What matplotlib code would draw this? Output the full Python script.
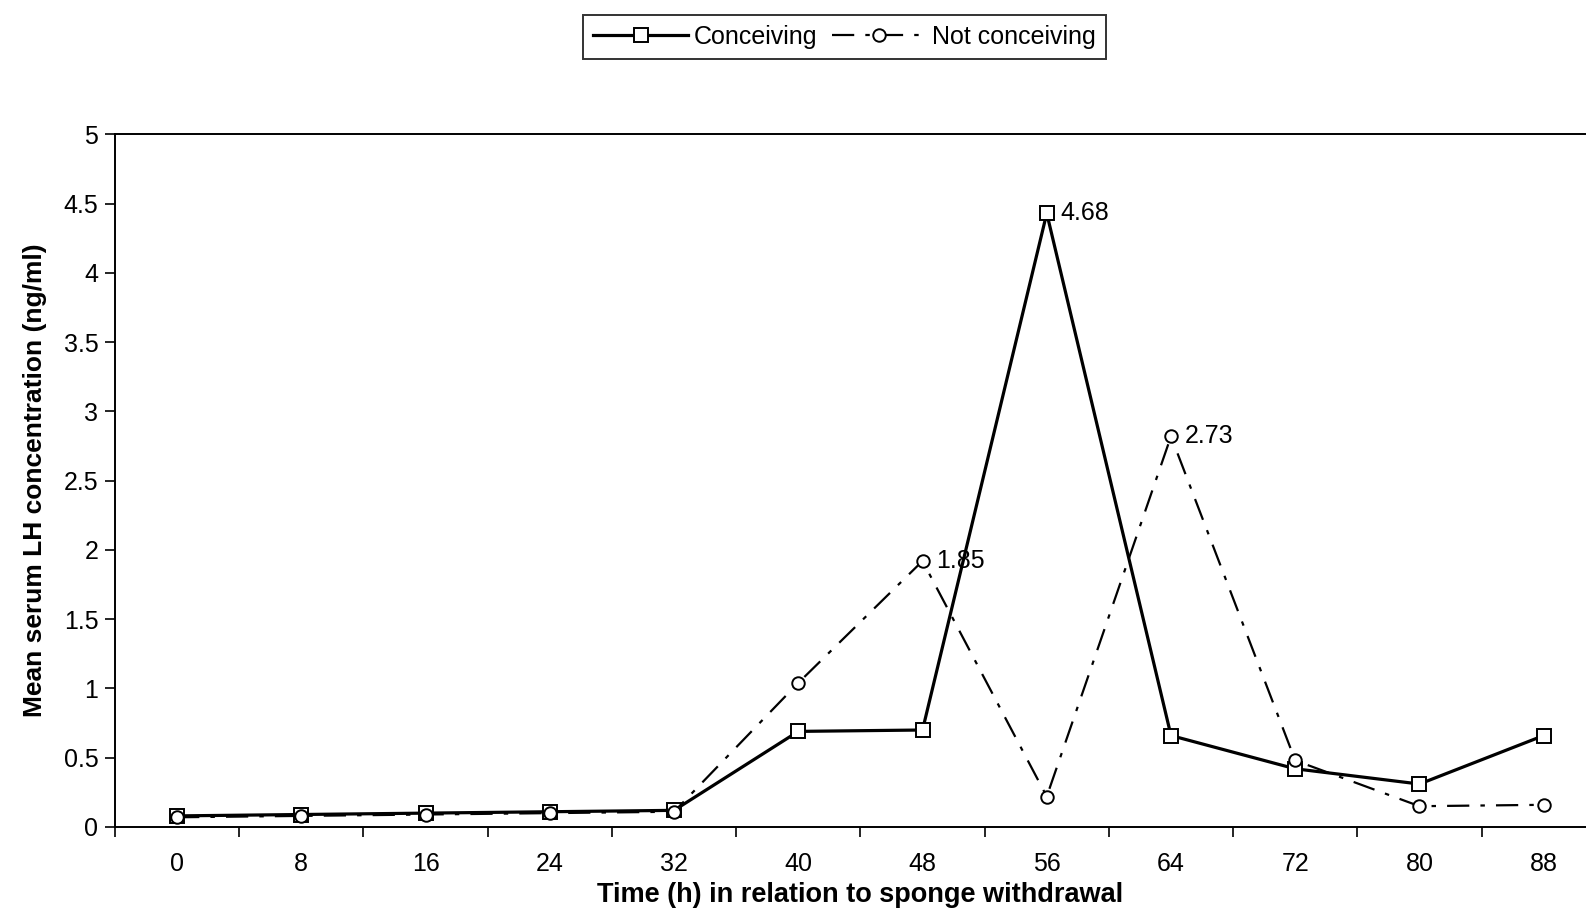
import numpy as np
import matplotlib
matplotlib.use("Agg")
import matplotlib.pyplot as plt

plt.rcParams['font.family'] = ['Liberation Sans', 'DejaVu Sans']

# data
hours = ["0", "8", "16", "24", "32", "40", "48", "56", "64", "72", "80", "88"]
conceiving = [0.08, 0.09, 0.10, 0.11, 0.12, 0.69, 0.70, 4.43, 0.66, 0.42, 0.31, 0.66]
not_conceiving = [0.07, 0.08, 0.09, 0.10, 0.11, 1.04, 1.92, 0.22, 2.82, 0.48, 0.15, 0.16]
# point labels (index, text) as printed on the chart
conc_labels = [(7, "4.68")]
notc_labels = [(6, "1.85"), (8, "2.73")]
yticks = [0, 0.5, 1, 1.5, 2, 2.5, 3, 3.5, 4, 4.5, 5]

fig = plt.figure(figsize=(15.86, 9.15), dpi=100)
ax = fig.add_axes([0.0725, 0.0962, 0.940, 0.757])
x = np.arange(len(hours))

ax.plot(x, conceiving, color="black", lw=2.3, marker="s", ms=10,
        mfc="white", mec="black", mew=1.4, label="Conceiving", zorder=3)
ax.plot(x, not_conceiving, color="black", lw=1.6, marker="o", ms=9,
        mfc="white", mec="black", mew=1.4, dashes=(10, 5, 2, 5),
        label="Not conceiving", zorder=3)

for i, t in conc_labels:
    ax.annotate(t, (x[i], conceiving[i]), xytext=(10, 0), textcoords="offset points",
                va="center", ha="left", fontsize=18)
for i, t in notc_labels:
    ax.annotate(t, (x[i], not_conceiving[i]), xytext=(10, 0), textcoords="offset points",
                va="center", ha="left", fontsize=18)

ax.set_xlim(-0.5, 11.5)
ax.set_ylim(0, 5)
ax.set_xticks(x)
ax.set_xticklabels(hours, fontsize=18)
ax.set_xticks(np.arange(-0.5, 12, 1), minor=True)
ax.tick_params(axis="x", which="major", length=0, pad=18)
ax.tick_params(axis="x", which="minor", length=7, width=1.2, direction="out")
ax.set_yticks(yticks)
ax.set_yticklabels([f"{v:g}" for v in yticks], fontsize=18)
ax.tick_params(axis="y", length=7, width=1.2, direction="out", pad=5)

ax.spines["right"].set_visible(False)
for s in ["left", "bottom", "top"]:
    ax.spines[s].set_linewidth(1.4)

ax.set_xlabel("Time (h) in relation to sponge withdrawal", fontsize=19.5,
              fontweight="bold", labelpad=4)
ax.set_ylabel("Mean serum LH concentration (ng/ml)", fontsize=19,
              fontweight="bold", labelpad=12)

leg = fig.legend(loc="upper center", bbox_to_anchor=(0.5325, 0.984), ncol=2,
                 fontsize=18, frameon=True, fancybox=False, edgecolor="black",
                 handlelength=3.8, columnspacing=0.6, handletextpad=0.2,
                 borderpad=0.4, borderaxespad=0)
leg.get_frame().set_linewidth(1.4)

fig.savefig("out.png", dpi=100)
